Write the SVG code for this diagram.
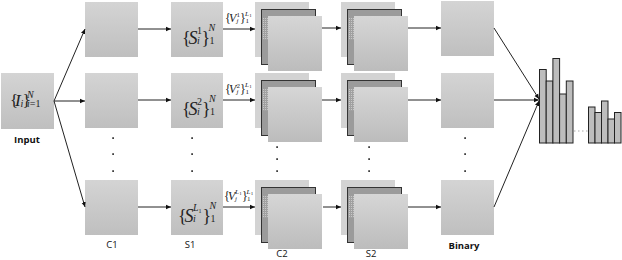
<svg xmlns="http://www.w3.org/2000/svg" width="622" height="260" viewBox="0 0 622 260">
<defs>
<linearGradient id="gBox" x1="0" y1="0" x2="0" y2="1">
<stop offset="0" stop-color="#d4d4d4"/>
<stop offset="1" stop-color="#bfbfbf"/>
</linearGradient>
<linearGradient id="gFront" x1="0" y1="0" x2="0" y2="1">
<stop offset="0" stop-color="#d6d6d6"/>
<stop offset="1" stop-color="#bcbcbc"/>
</linearGradient>
<pattern id="pDots" width="2" height="2" patternUnits="userSpaceOnUse">
<rect width="2" height="2" fill="#a0a0a0"/>
<rect width="1" height="1" fill="#c8c8c8"/>
</pattern>
<marker id="ah" markerWidth="6" markerHeight="6" refX="5" refY="3" orient="auto" markerUnits="userSpaceOnUse">
<path d="M0,0.8 L5,3 L0,5.2 Z" fill="#111"/>
</marker>
<g id="stack">
<rect x="0" y="0" width="54" height="55" fill="#d3d3d3"/>
<rect x="6.5" y="7.5" width="54" height="55" fill="#9b9b9b" stroke="#333" stroke-width="1"/>
<rect x="8" y="16" width="5" height="22" fill="url(#pDots)"/>
<rect x="13" y="14" width="54" height="55" fill="url(#gFront)"/>
</g>
</defs>
<style>
.box{fill:url(#gBox);}
.ar{stroke:#222;stroke-width:1;fill:none;marker-end:url(#ah);}
.lbl{font-family:"Open Sans","Liberation Sans",sans-serif;font-size:9.5px;fill:#111;text-anchor:middle;}
.b{font-weight:bold;}
.m{font-family:"Liberation Serif","Times New Roman",serif;fill:#222;}
.it{font-style:italic;}
.dot{fill:#111;}
.bar{fill:#bdbdbd;stroke:#222;stroke-width:1;}
</style>

<g id="input">
<rect class="box" x="1" y="73" width="53" height="56"/>
<text class="m" font-family="Liberation Serif, serif" font-size="17" y="105.5"><tspan x="10">{</tspan><tspan x="15" font-style="italic">I</tspan><tspan x="20.5" y="107" font-size="10" font-style="italic">i</tspan><tspan x="22.5" y="105.5">}</tspan><tspan x="27" y="98" font-size="10" font-style="italic">N</tspan><tspan x="27" y="106.5" font-size="10" font-style="italic">i</tspan><tspan font-size="10">=1</tspan></text>
<text class="lbl b" x="27" y="143">Input</text>
</g>

<g id="c1">
<rect class="box" x="85" y="2" width="53" height="55"/>
<rect class="box" x="85" y="73" width="53" height="55"/>
<rect class="box" x="85" y="180" width="53" height="55"/>
<rect class="dot" x="112.3" y="137.3" width="1.6" height="1.6"/>
<rect class="dot" x="112.3" y="153.3" width="1.6" height="1.6"/>
<rect class="dot" x="112.3" y="170.3" width="1.6" height="1.6"/>
<text class="lbl" x="112" y="248">C1</text>
</g>

<g id="s1">
<rect class="box" x="171" y="2" width="52" height="55"/>
<rect class="box" x="171" y="73" width="52" height="55"/>
<rect class="box" x="171" y="180" width="52" height="55"/>
<text class="m" font-family="Liberation Serif, serif" font-size="18" y="43.5"><tspan x="182">{</tspan><tspan x="188.5" font-style="italic">S</tspan><tspan x="197" y="33.5" font-size="10">1</tspan><tspan x="197" y="44" font-size="10" font-style="italic">i</tspan><tspan x="201.5" y="43.5">}</tspan><tspan x="208.5" y="30.5" font-size="10" font-style="italic">N</tspan><tspan x="209.5" y="44" font-size="10">1</tspan></text>
<text class="m" font-family="Liberation Serif, serif" font-size="18" y="114.5"><tspan x="182">{</tspan><tspan x="188.5" font-style="italic">S</tspan><tspan x="197" y="104.5" font-size="10">2</tspan><tspan x="197" y="115" font-size="10" font-style="italic">i</tspan><tspan x="202" y="114.5">}</tspan><tspan x="209" y="101.5" font-size="10" font-style="italic">N</tspan><tspan x="210" y="115" font-size="10">1</tspan></text>
<text class="m" font-family="Liberation Serif, serif" font-size="18" y="221.5"><tspan x="178">{</tspan><tspan x="184.5" font-style="italic">S</tspan><tspan x="193" y="210.5" font-size="10" font-style="italic">L</tspan><tspan x="198.5" y="212.5" font-size="6">1</tspan><tspan x="193" y="222" font-size="10" font-style="italic">i</tspan><tspan x="202.5" y="221.5">}</tspan><tspan x="209.5" y="208.5" font-size="10" font-style="italic">N</tspan><tspan x="210.5" y="222" font-size="10">1</tspan></text>
<rect class="dot" x="191.3" y="137.3" width="1.6" height="1.6"/>
<rect class="dot" x="191.3" y="153.3" width="1.6" height="1.6"/>
<rect class="dot" x="191.3" y="170.3" width="1.6" height="1.6"/>
<text class="lbl" x="190" y="248">S1</text>
</g>

<g id="vlabels">
<text class="m" font-family="Liberation Serif, serif" font-size="12" y="22"><tspan x="225">{</tspan><tspan x="229" font-style="italic">V</tspan><tspan x="236.5" y="16.5" font-size="7">1</tspan><tspan x="236.5" y="22.5" font-size="7" font-style="italic">j</tspan><tspan x="240" y="22">}</tspan><tspan x="245" y="15.5" font-size="7" font-style="italic">L</tspan><tspan x="249.2" y="16.8" font-size="5">1</tspan><tspan x="245.5" y="22.5" font-size="7">1</tspan></text>
<text class="m" font-family="Liberation Serif, serif" font-size="12" y="93"><tspan x="225">{</tspan><tspan x="229" font-style="italic">V</tspan><tspan x="236.5" y="87.5" font-size="7">2</tspan><tspan x="236.5" y="93.5" font-size="7" font-style="italic">j</tspan><tspan x="240" y="93">}</tspan><tspan x="245" y="86.5" font-size="7" font-style="italic">L</tspan><tspan x="249.2" y="87.8" font-size="5">1</tspan><tspan x="245.5" y="93.5" font-size="7">1</tspan></text>
<text class="m" font-family="Liberation Serif, serif" font-size="12" y="200"><tspan x="224">{</tspan><tspan x="228" font-style="italic">V</tspan><tspan x="235" y="193.5" font-size="7" font-style="italic">L</tspan><tspan x="239.2" y="194.8" font-size="5">1</tspan><tspan x="235" y="200.5" font-size="7" font-style="italic">j</tspan><tspan x="242" y="200">}</tspan><tspan x="246.5" y="193.5" font-size="7" font-style="italic">L</tspan><tspan x="250.7" y="194.8" font-size="5">1</tspan><tspan x="247" y="200.5" font-size="7">1</tspan></text>
</g>

<g id="c2">
<use href="#stack" x="255" y="2"/>
<use href="#stack" x="255" y="73"/>
<use href="#stack" x="255" y="180"/>
<rect class="dot" x="276.3" y="146.3" width="1.6" height="1.6"/>
<rect class="dot" x="276.3" y="158.3" width="1.6" height="1.6"/>
<rect class="dot" x="276.3" y="170.3" width="1.6" height="1.6"/>
<text class="lbl" x="282" y="257">C2</text>
</g>

<g id="s2">
<use href="#stack" x="341" y="2"/>
<use href="#stack" x="341" y="73"/>
<use href="#stack" x="341" y="180"/>
<rect class="dot" x="368.3" y="146.3" width="1.6" height="1.6"/>
<rect class="dot" x="368.3" y="158.3" width="1.6" height="1.6"/>
<rect class="dot" x="368.3" y="170.3" width="1.6" height="1.6"/>
<text class="lbl" x="371" y="257">S2</text>
</g>

<g id="binary">
<rect class="box" x="441" y="1" width="53" height="55"/>
<rect class="box" x="441" y="73" width="53" height="55"/>
<rect class="box" x="441" y="180" width="53" height="55"/>
<rect class="dot" x="464.3" y="137.3" width="1.6" height="1.6"/>
<rect class="dot" x="464.3" y="153.3" width="1.6" height="1.6"/>
<rect class="dot" x="464.3" y="170.3" width="1.6" height="1.6"/>
<text class="lbl b" x="464" y="249">Binary</text>
</g>

<g id="histogram">
<rect class="bar" x="539.5" y="69.5" width="6.7" height="73.5"/>
<rect class="bar" x="546.2" y="81" width="6.7" height="62"/>
<rect class="bar" x="552.9" y="58.5" width="6.7" height="84.5"/>
<rect class="bar" x="559.6" y="94" width="6.7" height="49"/>
<rect class="bar" x="566.3" y="81" width="6.7" height="62"/>
<line x1="574" y1="131" x2="588" y2="131" stroke="#aaa" stroke-width="1" stroke-dasharray="1.5,2.5"/>
<rect class="bar" x="588.5" y="107" width="6.5" height="36"/>
<rect class="bar" x="595" y="112.5" width="6.5" height="30.5"/>
<rect class="bar" x="601.5" y="101" width="6.5" height="42"/>
<rect class="bar" x="608" y="119" width="6.5" height="24"/>
<rect class="bar" x="614.5" y="112.5" width="6.5" height="30.5"/>
</g>

<g id="connectors">
<line class="ar" x1="54" y1="101" x2="85" y2="29"/>
<line class="ar" x1="54" y1="101" x2="85" y2="101"/>
<line class="ar" x1="54" y1="101" x2="85" y2="207"/>
<line class="ar" x1="138" y1="29" x2="171" y2="29"/>
<line class="ar" x1="138" y1="100" x2="171" y2="100"/>
<line class="ar" x1="138" y1="207" x2="171" y2="207"/>
<line class="ar" x1="223" y1="29" x2="255" y2="29"/>
<line class="ar" x1="223" y1="100" x2="255" y2="100"/>
<line class="ar" x1="223" y1="207" x2="255" y2="207"/>
<line class="ar" x1="322" y1="28" x2="341" y2="28"/>
<line class="ar" x1="322" y1="100" x2="341" y2="100"/>
<line class="ar" x1="323" y1="207" x2="341" y2="207"/>
<line class="ar" x1="408" y1="28" x2="441" y2="28"/>
<line class="ar" x1="408" y1="100" x2="441" y2="100"/>
<line class="ar" x1="408" y1="207" x2="441" y2="207"/>
<line class="ar" x1="494" y1="28" x2="539" y2="99"/>
<line class="ar" x1="494" y1="100" x2="539" y2="100"/>
<line class="ar" x1="494" y1="207" x2="539" y2="101"/>
</g>
</svg>
